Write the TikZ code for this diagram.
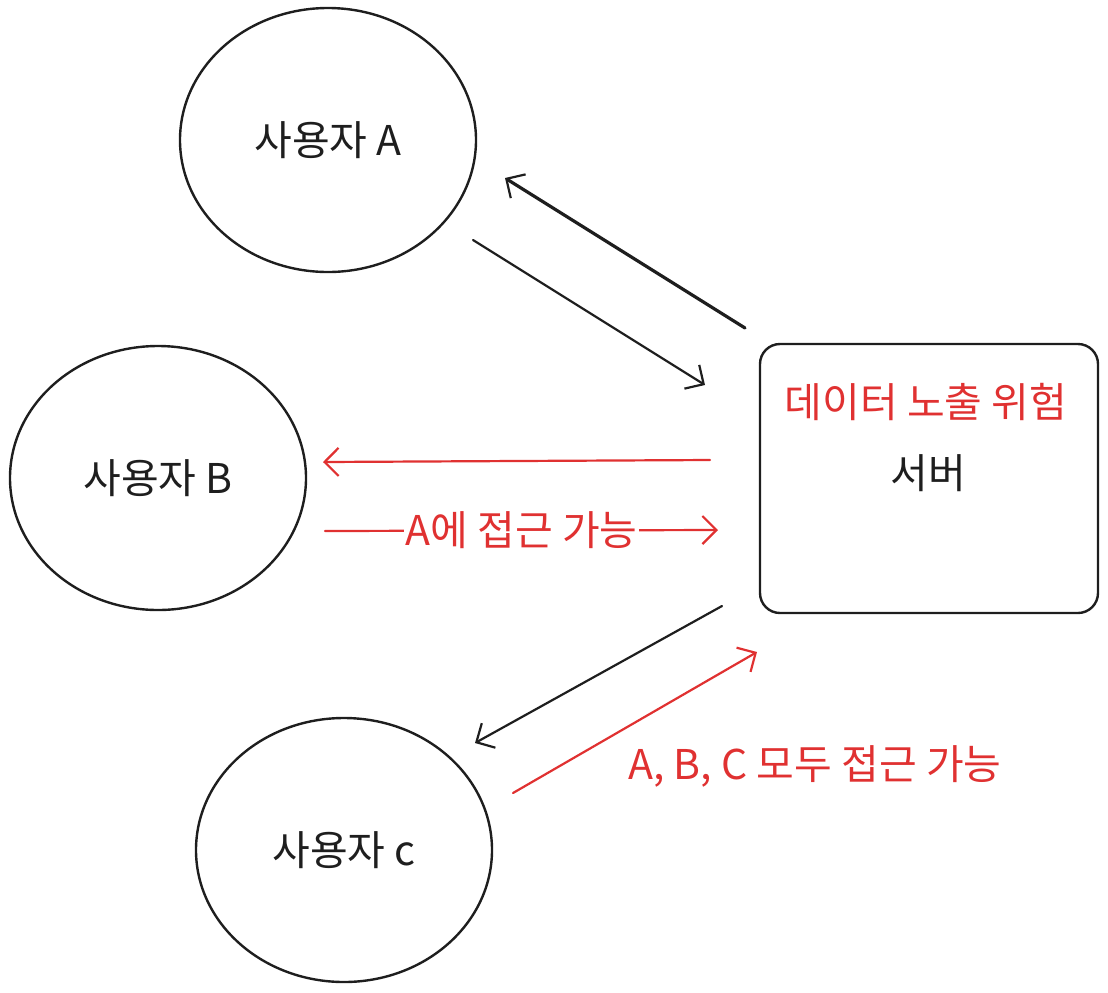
\documentclass[tikz,border=0pt]{standalone}
\usepackage{fontspec}
\setmainfont{Noto Sans CJK KR}
\usetikzlibrary{arrows.meta,shapes.geometric}
\definecolor{ink}{HTML}{1E1E1E}
\definecolor{alert}{HTML}{E03131}
\begin{document}
\begin{tikzpicture}[x=0.5pt,y=-0.5pt,
  lbl/.style={font=\fontsize{20.5}{24}\selectfont},
  user/.style={draw=ink, line width=1.2pt, ellipse, minimum width=148pt, minimum height=132pt, inner sep=0pt, text=ink, lbl},
  serverbox/.style={draw=ink, line width=1.2pt, rounded corners=10pt, minimum width=169pt, minimum height=134.5pt},
  conn/.style={line width=1.1pt, line cap=round, -{Straight Barb[length=7pt,width=14pt,line width=1.1pt]}},
  blk/.style={conn, draw=ink},
  redc/.style={conn, draw=alert},
]
\useasboundingbox (0,0) rectangle (1108,992);
\node[user] (ua) at (328,140) {사용자 A};
\node[user] (ub) at (158,478) {사용자 B};
\node[user] (uc) at (344,850) {사용자 c};
\node[serverbox] (srv) at (929,478.5) {};
\node[lbl, text=alert] (risk) at (926,402) {데이터 노출 위험};
\node[lbl, text=ink] (srvl) at (928,473) {서버};

\coordinate (a1) at (745,328); \coordinate (a2) at (505,178);
\coordinate (b1) at (473,240); \coordinate (b2) at (705,385);
\coordinate (c1) at (710,460); \coordinate (c2) at (323,462);
\coordinate (d1) at (325,531); \coordinate (d2) at (718,530);
\coordinate (e1) at (722,606); \coordinate (e2) at (475,743);
\coordinate (f1) at (513,793); \coordinate (f2) at (757,652);

\draw[blk, line width=1.6pt] (a1) -- (a2);
\draw[blk] (b1) -- (b2);
\draw[redc] (c1) -- (c2);
\draw[redc] (d1) -- node[lbl, text=alert, fill=white, inner sep=1pt] (dl) {A에 접근 가능} (d2);
\draw[blk] (e1) -- (e2);
\draw[redc] (f1) -- (f2);
\node[lbl, text=alert] (fl) at (815,766) {A, B, C 모두 접근 가능};
\end{tikzpicture}
\end{document}
